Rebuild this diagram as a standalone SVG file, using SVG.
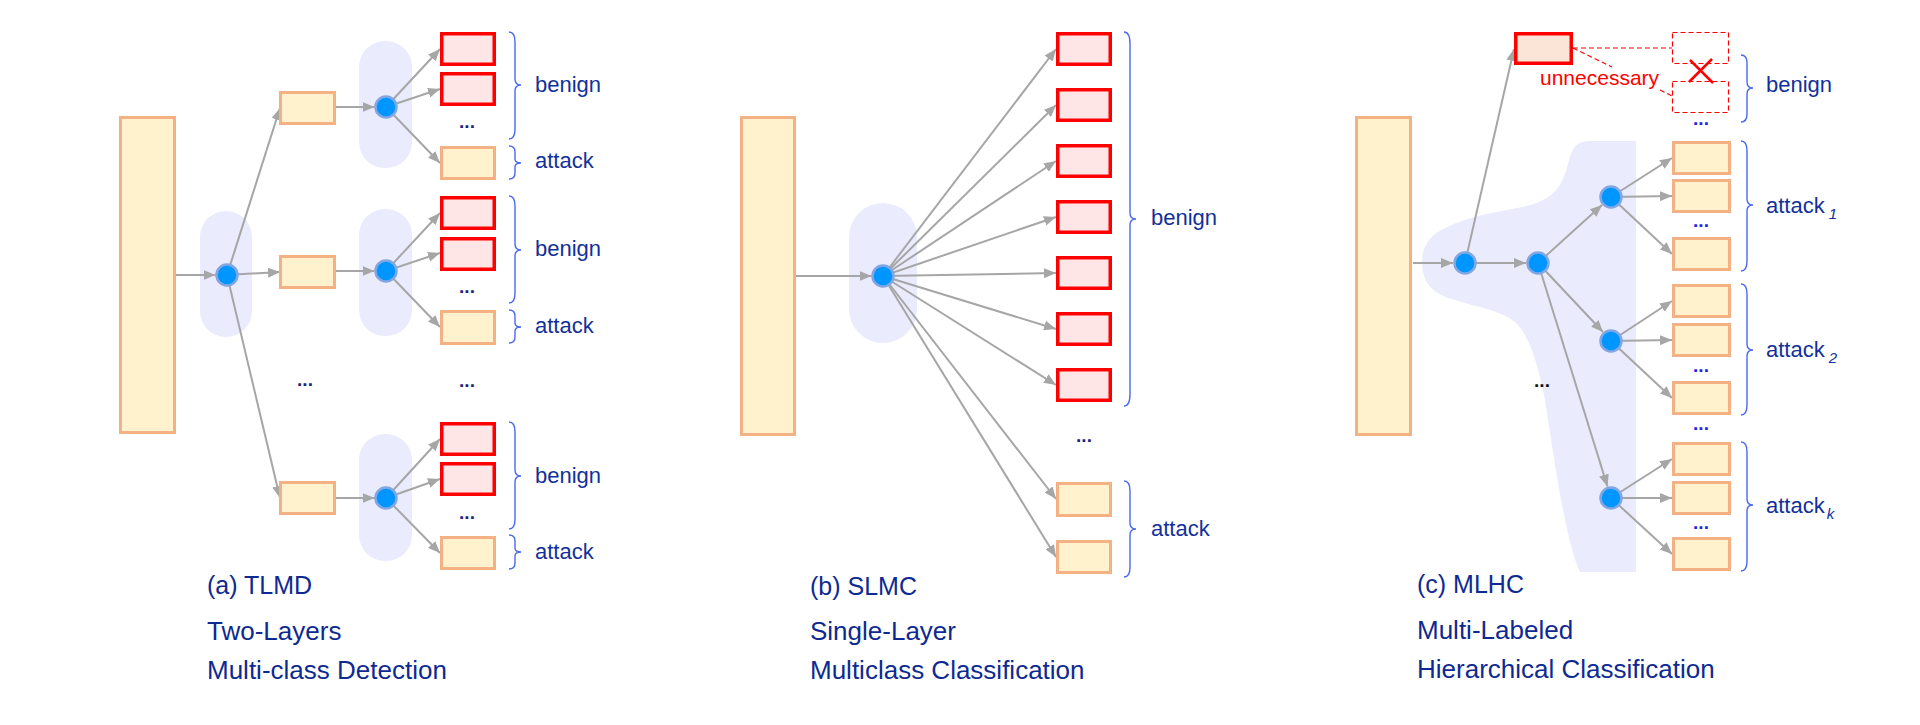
<svg xmlns="http://www.w3.org/2000/svg" width="1920" height="725" viewBox="0 0 1920 725">
<style>
.big{fill:#FFF2CC;stroke:#F4B183;stroke-width:3}
.ob{fill:#FFF2CC;stroke:#F4B183;stroke-width:3}
.rb{fill:#FFE6E6;stroke:#FF0000;stroke-width:3.5}
.pill{fill:#EAEBFC}
.nd{fill:#0096FF;stroke:#82A6E2;stroke-width:2.5}
.ar{stroke:#A6A6A6;stroke-width:2;fill:none;marker-end:url(#ah)}
.br{fill:none;stroke:#4A68F0;stroke-width:1.4}
.lbl{font-family:"Liberation Sans",Arial,sans-serif;font-size:22px;fill:#13309A}
.sub{font-size:15px;font-style:italic}
.cap{font-family:"Liberation Sans",Arial,sans-serif;font-size:26px;fill:#0E2A92}
.cap1{font-size:25px}
.dots{font-family:"Liberation Sans",Arial,sans-serif;font-size:19px;font-weight:bold;fill:#1A237E;text-anchor:middle}
.bdots{fill:#2222E6}
.kdots{fill:#111111}
.dash{fill:none;stroke:#FF0000;stroke-width:1.2;stroke-dasharray:5 3}
</style>
<defs>
<marker id="ah" markerUnits="userSpaceOnUse" markerWidth="13" markerHeight="10" refX="12" refY="5" orient="auto">
<path d="M0,0 L12,5 L0,10 Z" fill="#A6A6A6"/>
</marker>
</defs>

<!-- backgrounds -->
<g id="bg">
<rect class="pill" x="200" y="211" width="52" height="126" rx="26"/>
<rect class="pill" x="359" y="41" width="53" height="127" rx="26"/>
<rect class="pill" x="359" y="209" width="53" height="127" rx="26"/>
<rect class="pill" x="359" y="434" width="53" height="127" rx="26"/>
<rect class="pill" x="849" y="203" width="68" height="140" rx="34"/>
<path class="pill" d="M1636,141 L1590,141 C1575,141 1572,150 1569,160 C1563,185 1556,198 1527,206 C1500,212 1470,215 1445,228 C1428,236 1422,248 1422,262 C1422,282 1432,294 1455,300 C1480,308 1500,310 1515,322 C1530,336 1538,365 1545,400 C1553,450 1565,540 1580,572 L1636,572 Z"/>
</g>

<g id="connectors">
<!-- panel a -->
<line class="ar" x1="176" y1="275" x2="215.5" y2="275"/>
<line class="ar" x1="227" y1="275" x2="280" y2="108"/>
<line class="ar" x1="227" y1="275" x2="280" y2="272"/>
<line class="ar" x1="227" y1="275" x2="280" y2="498"/>
<line class="ar" x1="336" y1="107" x2="374.5" y2="107"/>
<line class="ar" x1="336" y1="271" x2="374.5" y2="271"/>
<line class="ar" x1="336" y1="498" x2="374.5" y2="498"/>
<line class="ar" x1="386" y1="107" x2="440" y2="49"/>
<line class="ar" x1="386" y1="107" x2="440" y2="89"/>
<line class="ar" x1="386" y1="107" x2="440" y2="163"/>
<line class="ar" x1="386" y1="271" x2="440" y2="213"/>
<line class="ar" x1="386" y1="271" x2="440" y2="253"/>
<line class="ar" x1="386" y1="271" x2="440" y2="327"/>
<line class="ar" x1="386" y1="498" x2="440" y2="439"/>
<line class="ar" x1="386" y1="498" x2="440" y2="479"/>
<line class="ar" x1="386" y1="498" x2="440" y2="553"/>
<!-- panel b -->
<line class="ar" x1="796" y1="276" x2="871.5" y2="276"/>
<line class="ar" x1="883" y1="276" x2="1056" y2="49"/>
<line class="ar" x1="883" y1="276" x2="1056" y2="105"/>
<line class="ar" x1="883" y1="276" x2="1056" y2="161"/>
<line class="ar" x1="883" y1="276" x2="1056" y2="217"/>
<line class="ar" x1="883" y1="276" x2="1056" y2="273"/>
<line class="ar" x1="883" y1="276" x2="1056" y2="329"/>
<line class="ar" x1="883" y1="276" x2="1056" y2="385"/>
<line class="ar" x1="883" y1="276" x2="1056" y2="499"/>
<line class="ar" x1="883" y1="276" x2="1056" y2="557"/>
<!-- panel c -->
<line class="ar" x1="1413" y1="263" x2="1453" y2="263"/>
<line class="ar" x1="1465" y1="263" x2="1526" y2="263"/>
<line class="ar" x1="1465" y1="263" x2="1514" y2="49"/>
<line class="ar" x1="1538" y1="263" x2="1602" y2="205"/>
<line class="ar" x1="1538" y1="263" x2="1603" y2="332"/>
<line class="ar" x1="1538" y1="263" x2="1607.5" y2="486.5"/>
<line class="ar" x1="1611" y1="197" x2="1672" y2="158"/>
<line class="ar" x1="1611" y1="197" x2="1672" y2="196"/>
<line class="ar" x1="1611" y1="197" x2="1672" y2="254"/>
<line class="ar" x1="1611" y1="341" x2="1672" y2="301"/>
<line class="ar" x1="1611" y1="341" x2="1672" y2="340"/>
<line class="ar" x1="1611" y1="341" x2="1672" y2="398"/>
<line class="ar" x1="1611" y1="498" x2="1672" y2="459"/>
<line class="ar" x1="1611" y1="498" x2="1672" y2="498"/>
<line class="ar" x1="1611" y1="498" x2="1672" y2="554"/>
<!-- unnecessary dashed -->
<line class="dash" x1="1573" y1="48" x2="1672" y2="48"/>
<line class="dash" x1="1573" y1="48" x2="1612" y2="67"/>
<line class="dash" x1="1660" y1="90" x2="1672" y2="96"/>
</g>

<!-- panel a nodes -->
<g id="a-input"><rect class="big" x="120.5" y="117.5" width="54" height="315"/></g>
<g id="a-n0"><circle class="nd" cx="227" cy="275" r="10.5"/></g>
<g id="a-m1"><rect class="ob" x="280.5" y="92.5" width="54" height="31"/></g>
<g id="a-m2"><rect class="ob" x="280.5" y="256.5" width="54" height="31"/></g>
<g id="a-m3"><rect class="ob" x="280.5" y="482.5" width="54" height="31"/></g>
<g id="a-n1"><circle class="nd" cx="386" cy="107" r="10.5"/></g>
<g id="a-n2"><circle class="nd" cx="386" cy="271" r="10.5"/></g>
<g id="a-n3"><circle class="nd" cx="386" cy="498" r="10.5"/></g>
<g id="a-g1">
<rect class="rb" x="441.75" y="33.75" width="52.5" height="30.5"/>
<rect class="rb" x="441.75" y="73.75" width="52.5" height="30.5"/>
<text class="dots" x="467" y="128">...</text>
<rect class="ob" x="441.5" y="147.5" width="53" height="31"/>
<path class="br" d="M509,32 Q515,32 515,42 L515,79 Q515,85 521,85 Q515,85 515,91 L515,129 Q515,139 509,139"/>
<path class="br" d="M509,146 Q515,146 515,152 L515,159 Q515,163 521,163 Q515,163 515,167 L515,173 Q515,179 509,179"/>
<text class="lbl" x="535" y="92">benign</text>
<text class="lbl" x="535" y="168">attack</text>
</g>
<g id="a-g2">
<rect class="rb" x="441.75" y="197.75" width="52.5" height="30.5"/>
<rect class="rb" x="441.75" y="238.75" width="52.5" height="30.5"/>
<text class="dots" x="467" y="293">...</text>
<rect class="ob" x="441.5" y="311.5" width="53" height="32"/>
<path class="br" d="M509,196 Q515,196 515,206 L515,244 Q515,250 521,250 Q515,250 515,256 L515,293 Q515,303 509,303"/>
<path class="br" d="M509,310 Q515,310 515,316 L515,323 Q515,327 521,327 Q515,327 515,331 L515,337 Q515,343 509,343"/>
<text class="lbl" x="535" y="256">benign</text>
<text class="lbl" x="535" y="333">attack</text>
</g>
<g id="a-g3">
<rect class="rb" x="441.75" y="423.75" width="52.5" height="30.5"/>
<rect class="rb" x="441.75" y="463.75" width="52.5" height="30.5"/>
<text class="dots" x="467" y="519">...</text>
<rect class="ob" x="441.5" y="537.5" width="53" height="31"/>
<path class="br" d="M509,422 Q515,422 515,432 L515,470 Q515,476 521,476 Q515,476 515,482 L515,519 Q515,529 509,529"/>
<path class="br" d="M509,535 Q515,535 515,541 L515,548 Q515,552 521,552 Q515,552 515,556 L515,563 Q515,569 509,569"/>
<text class="lbl" x="535" y="483">benign</text>
<text class="lbl" x="535" y="559">attack</text>
</g>
<g id="a-dots">
<text class="dots" x="305" y="386">...</text>
<text class="dots" x="467" y="387">...</text>
</g>
<g id="a-caption">
<text class="cap cap1" x="207" y="594">(a) TLMD</text>
<text class="cap" x="207" y="640">Two-Layers</text>
<text class="cap" x="207" y="679">Multi-class Detection</text>
</g>

<!-- panel b nodes -->
<g id="b-input"><rect class="big" x="741.5" y="117.5" width="53" height="317"/></g>
<g id="b-n0"><circle class="nd" cx="883" cy="276" r="10.5"/></g>
<g id="b-benign">
<rect class="rb" x="1057.75" y="33.75" width="52.5" height="30.5"/>
<rect class="rb" x="1057.75" y="89.75" width="52.5" height="30.5"/>
<rect class="rb" x="1057.75" y="145.75" width="52.5" height="30.5"/>
<rect class="rb" x="1057.75" y="201.75" width="52.5" height="30.5"/>
<rect class="rb" x="1057.75" y="257.75" width="52.5" height="30.5"/>
<rect class="rb" x="1057.75" y="313.75" width="52.5" height="30.5"/>
<rect class="rb" x="1057.75" y="369.75" width="52.5" height="30.5"/>
<path class="br" d="M1124,32 Q1130,32 1130,44 L1130,213 Q1130,219 1136,219 Q1130,219 1130,225 L1130,394 Q1130,406 1124,406"/>
<text class="lbl" x="1151" y="225">benign</text>
</g>
<text class="dots" x="1084" y="442">...</text>
<g id="b-attack">
<rect class="ob" x="1057.5" y="483.5" width="53" height="32"/>
<rect class="ob" x="1057.5" y="541.5" width="53" height="31"/>
<path class="br" d="M1124,481 Q1130,481 1130,491 L1130,523 Q1130,529 1136,529 Q1130,529 1130,535 L1130,567 Q1130,577 1124,577"/>
<text class="lbl" x="1151" y="536">attack</text>
</g>
<g id="b-caption">
<text class="cap cap1" x="810" y="595">(b) SLMC</text>
<text class="cap" x="810" y="640">Single-Layer</text>
<text class="cap" x="810" y="679">Multiclass Classification</text>
</g>

<!-- panel c nodes -->
<g id="c-input"><rect class="big" x="1356.5" y="117.5" width="54" height="317"/></g>
<g id="c-n1"><circle class="nd" cx="1465" cy="263" r="10.5"/></g>
<g id="c-n2"><circle class="nd" cx="1538" cy="263" r="10.5"/></g>
<g id="c-n3"><circle class="nd" cx="1611" cy="197" r="10.5"/></g>
<g id="c-n4"><circle class="nd" cx="1611" cy="341" r="10.5"/></g>
<g id="c-n5"><circle class="nd" cx="1611" cy="498" r="10.5"/></g>
<g id="c-benign">
<rect x="1515.75" y="33.75" width="55.5" height="29.5" fill="#FBE5D6" stroke="#FF0000" stroke-width="3.5"/>
<rect class="dash" x="1672.5" y="32.5" width="56" height="31" stroke-dasharray="4 3"/>
<rect class="dash" x="1672.5" y="81.5" width="56" height="31" stroke-dasharray="4 3"/>
<path d="M1712,59 L1689,82 M1690,60 L1713,83" stroke="#FF0000" stroke-width="2.5" fill="none"/>
<text x="1540" y="85" font-family="Liberation Sans, Arial, sans-serif" font-size="21" fill="#FF0000">unnecessary</text>
<text class="dots bdots" x="1701" y="125">...</text>
<path class="br" d="M1741,55 Q1747,55 1747,63 L1747,82 Q1747,88 1753,88 Q1747,88 1747,94 L1747,114 Q1747,122 1741,122"/>
<text class="lbl" x="1766" y="92">benign</text>
</g>
<g id="c-attack1">
<rect class="ob" x="1673.5" y="142.5" width="56" height="31"/>
<rect class="ob" x="1673.5" y="180.5" width="56" height="31"/>
<text class="dots bdots" x="1701" y="227">...</text>
<rect class="ob" x="1673.5" y="238.5" width="56" height="31"/>
<path class="br" d="M1741,141 Q1747,141 1747,151 L1747,199 Q1747,205 1753,205 Q1747,205 1747,211 L1747,261 Q1747,271 1741,271"/>
<text class="lbl" x="1766" y="213">attack<tspan class="sub" dx="4" dy="6">1</tspan></text>
</g>
<g id="c-attack2">
<rect class="ob" x="1673.5" y="285.5" width="56" height="31"/>
<rect class="ob" x="1673.5" y="324.5" width="56" height="31"/>
<text class="dots bdots" x="1701" y="372">...</text>
<rect class="ob" x="1673.5" y="382.5" width="56" height="31"/>
<path class="br" d="M1741,284 Q1747,284 1747,294 L1747,344 Q1747,350 1753,350 Q1747,350 1747,356 L1747,405 Q1747,415 1741,415"/>
<text class="lbl" x="1766" y="357">attack<tspan class="sub" dx="4" dy="6">2</tspan></text>
</g>
<text class="dots bdots" x="1701" y="430">...</text>
<g id="c-attackk">
<rect class="ob" x="1673.5" y="443.5" width="56" height="31"/>
<rect class="ob" x="1673.5" y="482.5" width="56" height="31"/>
<text class="dots bdots" x="1701" y="529">...</text>
<rect class="ob" x="1673.5" y="538.5" width="56" height="31"/>
<path class="br" d="M1741,442 Q1747,442 1747,452 L1747,499 Q1747,505 1753,505 Q1747,505 1747,511 L1747,561 Q1747,571 1741,571"/>
<text class="lbl" x="1766" y="513">attack<tspan class="sub" dx="2" dy="6">k</tspan></text>
</g>
<text class="dots kdots" x="1542" y="387">...</text>
<g id="c-caption">
<text class="cap cap1" x="1417" y="593">(c) MLHC</text>
<text class="cap" x="1417" y="639">Multi-Labeled</text>
<text class="cap" x="1417" y="678">Hierarchical Classification</text>
</g>
</svg>
